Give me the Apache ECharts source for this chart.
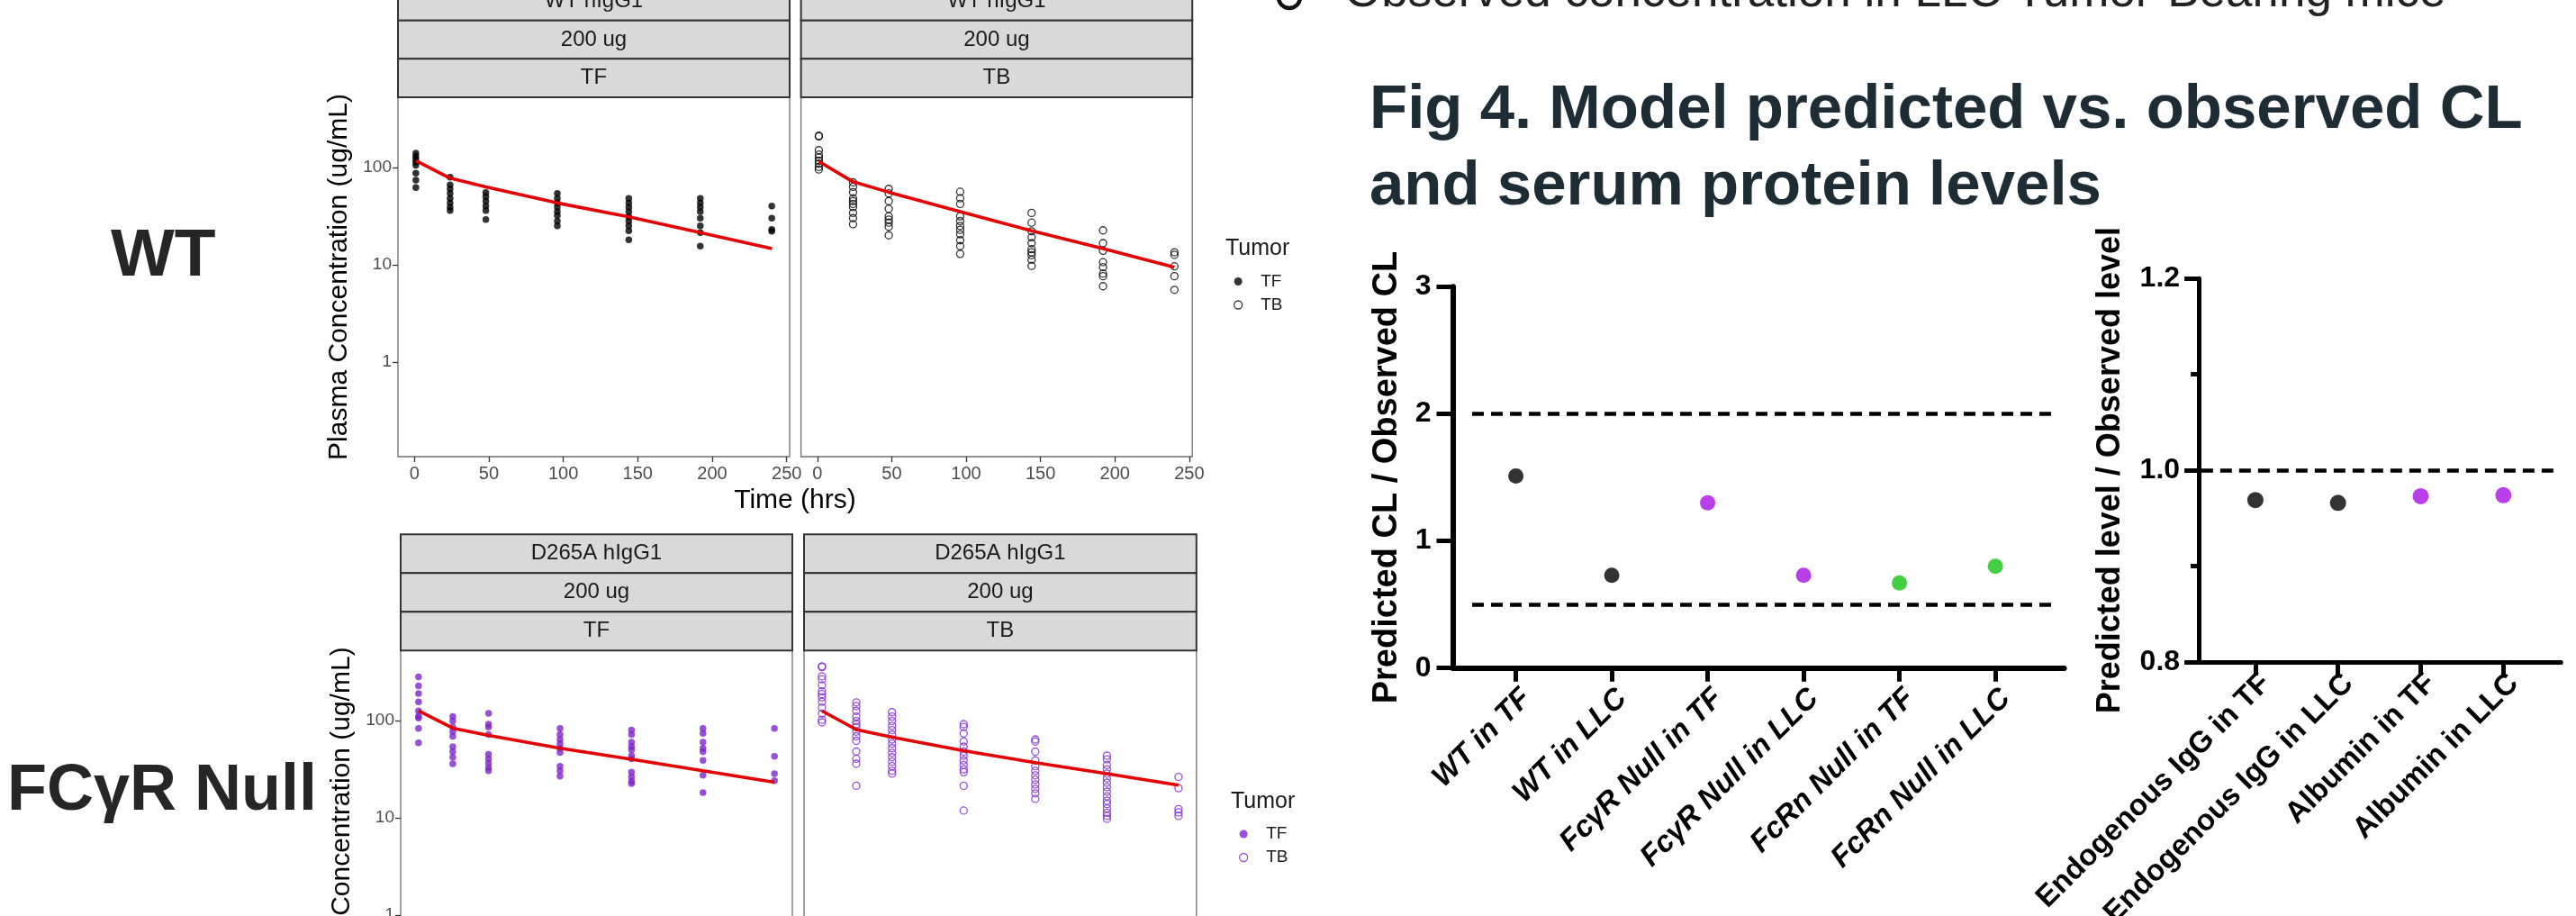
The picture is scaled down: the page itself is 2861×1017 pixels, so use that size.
<!DOCTYPE html>
<html>
<head>
<meta charset="utf-8">
<title>Fig 4 - PK panels and model predicted vs observed</title>
<script src="https://cdn.jsdelivr.net/npm/echarts@6.0.0/dist/echarts.min.js"></script>
<style>
  html, body { margin: 0; padding: 0; background: #fff; }
  #chart { width: 2861px; height: 1017px; }
</style>
</head>
<body>
<div id="chart"></div>
<script>
const FONT = '"Liberation Sans", Arial, Helvetica, sans-serif';

// sampling times (hrs) and tick values of the PK panels
const times = [1, 24, 48, 96, 144, 192, 240];
const timeTicks = [0, 50, 100, 150, 200, 250];
const concTicks = [1, 10, 100];

// observed plasma concentration (ug/mL), one list per sampling time
const wtTfObs = [
  [140, 130, 121, 113, 105, 87, 74, 62],
  [79, 66, 60, 54, 48, 43, 39, 36],
  [55, 50, 45, 40, 36, 29],
  [54, 48, 43, 39, 35, 32, 28, 25],
  [48, 43, 39, 35, 31, 28, 25, 22.3, 18],
  [48, 43, 39, 35, 30, 25, 21.3, 15.5],
  [40, 30, 23, 22]
];
const wtTbObs = [
  [211, 208, 150, 135, 126, 117, 109, 101, 95],
  [70, 63, 55.5, 48, 45, 42, 39, 34, 30, 26],
  [60, 54, 45, 37.5, 31.4, 29, 27, 24.5, 20],
  [56, 48, 42, 31.4, 28, 25, 22.8, 20.5, 17.8, 15.5, 12.9],
  [34, 27, 22, 19.1, 16.6, 14.4, 13.4, 12.5, 11.2, 9.7],
  [22.5, 16.6, 13.9, 10.6, 9.4, 8.1, 7.6, 6.0],
  [13.4, 12.6, 9.6, 7.6, 5.5]
];
const nullTfObs = [
  [282, 228, 190, 156, 126, 111, 106, 83, 59],
  [110, 99, 86, 77, 69, 54, 48, 42, 36],
  [119, 92, 86, 72, 45, 40.5, 36.4, 32.7, 30.5],
  [83, 72, 64, 58, 52, 47, 34, 30.5, 26.8],
  [80, 72, 60, 54, 50, 43.6, 40.5, 29.5, 26.4, 23.8, 22.5],
  [83, 74, 60, 52, 48, 39, 27.4, 18.2],
  [83, 42.9, 28.4, 24.1]
];
const nullTbObs = [
  [361, 355, 286, 266, 231, 200, 187, 174, 156, 136, 118, 102, 96],
  [154, 141, 126, 110, 99, 92, 86, 77, 69, 62, 48, 40.5, 36, 21.4],
  [122, 110, 99, 88.5, 80, 72, 64, 58, 52, 46.7, 42, 37.8, 34, 30.5, 28.5],
  [92, 86, 74, 61, 54, 48, 43.6, 39, 35, 31.6, 29.5, 21.4, 11.9],
  [64, 61, 48, 39, 34, 30.5, 27.4, 24.7, 22.1, 19.9, 17.9, 15.7],
  [43.6, 40, 35, 31.6, 28.5, 25.5, 23, 20.7, 18.6, 16.7, 15, 13.9, 12.5, 11.3, 10.5, 9.8],
  [26.4, 20.2, 12.3, 11.4, 10.5]
];

// model prediction at the same times
const wtTfPred = [117, 77.4, 63, 43, 31, 21.3, 14.6];
const wtTbPred = [115, 71, 55.5, 35, 22.3, 14.6, 9.4];
const nullTfPred = [126, 83.6, 70.5, 52, 40, 30.5, 23.3];
const nullTbPred = [126, 81, 67.6, 49, 37, 28.5, 21.7];

// Fig 4 left: predicted / observed CL
const clCats = ['WT in TF', 'WT in LLC', 'FcγR Null in TF', 'FcγR Null in LLC', 'FcRn Null in TF', 'FcRn Null in LLC'];
const clGroups = ['WT', 'WT', 'FcγR', 'FcγR', 'FcRn', 'FcRn'];
const clRatio = [1.51, 0.73, 1.30, 0.73, 0.67, 0.80];
const clLimits = [2, 0.5];

// Fig 4 right: predicted / observed serum protein level
const proteinCats = ['Endogenous IgG in TF', 'Endogenous IgG in LLC', 'Albumin in TF', 'Albumin in LLC'];
const proteinGroups = ['IgG', 'IgG', 'Albumin', 'Albumin'];
const proteinRatio = [0.969, 0.966, 0.973, 0.974];
const proteinRef = [1.0];

const groupColors = { WT: '#000000', 'FcγR': '#a70fe2', FcRn: '#15c215', IgG: '#000000', Albumin: '#a70fe2' };
const PURPLE = '#7d26cd';

function obsPoints(obs) {
  const pts = [];
  obs.forEach((vals, i) => vals.forEach(v => pts.push([times[i], v])));
  return pts;
}
function predPoints(pred) {
  return pred.map((v, i) => [times[i], v]);
}

const PANEL_H = 399;
const panels = [
  { left: 442, top: 108, width: 435, stripTop: -20, strip: ['WT hIgG1', '200 ug', 'TF'], obs: wtTfObs, pred: wtTfPred, name: 'TF', color: '#000', hollow: false, yLabels: true },
  { left: 889.6, top: 108, width: 434.6, stripTop: -20, strip: ['WT hIgG1', '200 ug', 'TB'], obs: wtTbObs, pred: wtTbPred, name: 'TB', color: '#000', hollow: true, yLabels: false },
  { left: 445, top: 722.3, width: 435, stripTop: 593.3, strip: ['D265A hIgG1', '200 ug', 'TF'], obs: nullTfObs, pred: nullTfPred, name: 'TF', color: PURPLE, hollow: false, yLabels: true },
  { left: 893, top: 722.3, width: 435.8, stripTop: 593.3, strip: ['D265A hIgG1', '200 ug', 'TB'], obs: nullTbObs, pred: nullTbPred, name: 'TB', color: PURPLE, hollow: true, yLabels: false }
];

const grid = [], xAxis = [], yAxis = [], series = [], graphic = [];

panels.forEach((p, i) => {
  grid.push({ left: p.left, top: p.top, width: p.width, height: PANEL_H, show: true,
    borderColor: '#6e6e6e', borderWidth: 1.3, backgroundColor: '#fff', outerBoundsMode: 'none' });
  xAxis.push({
    gridIndex: i, type: 'value', min: -11, max: 252,
    axisLine: { show: false, onZero: false },
    splitLine: { show: false },
    axisTick: { show: true, customValues: timeTicks, length: 6, lineStyle: { color: '#333', width: 1.3 } },
    axisLabel: { customValues: timeTicks, color: '#4d4d4d', fontSize: 20, fontFamily: FONT, margin: 9 }
  });
  yAxis.push({
    gridIndex: i, type: 'log', logBase: 10, min: 0.1062, max: 524.8,
    axisLine: { show: false, onZero: false },
    splitLine: { show: false },
    axisTick: { show: p.yLabels, customValues: concTicks, length: 6, lineStyle: { color: '#333', width: 1.3 } },
    axisLabel: { show: p.yLabels, customValues: concTicks, color: '#4d4d4d', fontSize: 19, fontFamily: FONT, margin: 7 },
    name: p.yLabels ? 'Plasma Concentration (ug/mL)' : '',
    nameLocation: 'middle', nameGap: 50,
    nameTextStyle: { fontSize: 30, color: '#000', fontFamily: FONT }
  });
  series.push({
    type: 'scatter', name: p.name, xAxisIndex: i, yAxisIndex: i,
    data: obsPoints(p.obs), symbol: 'circle', symbolSize: p.hollow ? 8 : 7.5,
    itemStyle: p.hollow ? { color: 'rgba(0,0,0,0)', borderColor: p.color, borderWidth: 1.3 } : { color: p.color },
    z: 2, silent: true
  });
  series.push({
    type: 'line', name: 'Model', xAxisIndex: i, yAxisIndex: i,
    data: predPoints(p.pred), symbol: 'none',
    lineStyle: { color: '#e40000', width: 3.6 }, z: 3, silent: true
  });

  // facet strips
  const h = (p.top - p.stripTop) / 3;
  p.strip.forEach((label, r) => {
    const y0 = p.stripTop + r * h;
    graphic.push({ type: 'rect', silent: true, shape: { x: p.left, y: y0, width: p.width, height: h },
      style: { fill: '#d9d9d9', stroke: '#333', lineWidth: 2 } });
    graphic.push({ type: 'text', silent: true, x: p.left + p.width / 2, y: y0 + h / 2,
      style: { text: label, fontSize: 24, fontFamily: FONT, fill: '#1a1a1a',
        align: 'center', verticalAlign: 'middle', textAlign: 'center', textVerticalAlign: 'middle' } });
  });
});

// Fig 4: CL ratio chart (grid 4)
grid.push({ left: 1613.5, top: 318.3, width: 679.1, height: 423.4, outerBoundsMode: 'none' });
xAxis.push({
  gridIndex: 4, type: 'value', min: -0.658, max: 5.718,
  axisLine: { lineStyle: { color: '#000', width: 6 }, onZero: false },
  splitLine: { show: false },
  axisTick: { customValues: clCats.map((c, i) => i), length: 15, lineStyle: { color: '#000', width: 5 } },
  axisLabel: { customValues: clCats.map((c, i) => i), formatter: v => clCats[v], rotate: 45,
    align: 'right', verticalAlign: 'top', margin: 17,
    fontSize: 33, fontWeight: 'bold', fontStyle: 'italic', color: '#000', fontFamily: FONT }
});
yAxis.push({
  gridIndex: 4, type: 'value', min: 0, max: 3, interval: 1,
  axisLine: { show: true, lineStyle: { color: '#000', width: 6 }, onZero: false },
  splitLine: { show: false },
  axisTick: { length: 18, lineStyle: { color: '#000', width: 5 } },
  axisLabel: { fontSize: 32, fontWeight: 'bold', color: '#000', fontFamily: FONT, margin: 24 },
  name: 'Predicted CL / Observed CL', nameLocation: 'middle', nameGap: 54,
  nameTextStyle: { fontSize: 38, fontWeight: 'bold', color: '#000', fontFamily: FONT }
});
series.push({
  type: 'scatter', name: 'CL ratio', xAxisIndex: 4, yAxisIndex: 4,
  data: clRatio.map((v, i) => [i, v]), symbolSize: 17, silent: true, z: 4,
  itemStyle: { color: p => groupColors[clGroups[p.dataIndex]] },
  markLine: {
    silent: true, symbol: ['none', 'none'], label: { show: false },
    lineStyle: { color: '#000', width: 4.5, type: [13, 8] },
    data: clLimits.map(v => [{ coord: [-0.456, v] }, { coord: [5.638, v] }])
  }
});

// Fig 4: serum protein chart (grid 5)
grid.push({ left: 2442.1, top: 309.3, width: 402.2, height: 425.7, outerBoundsMode: 'none' });
xAxis.push({
  gridIndex: 5, type: 'value', min: -0.684, max: 3.697,
  axisLine: { lineStyle: { color: '#000', width: 5 }, onZero: false },
  splitLine: { show: false },
  axisTick: { customValues: proteinCats.map((c, i) => i), length: 15, lineStyle: { color: '#000', width: 5 } },
  axisLabel: { customValues: proteinCats.map((c, i) => i), formatter: v => proteinCats[v], rotate: 45,
    align: 'right', verticalAlign: 'top', margin: 7,
    fontSize: 33, fontWeight: 'bold', color: '#000', fontFamily: FONT }
});
yAxis.push({
  gridIndex: 5, type: 'value', min: 0.8, max: 1.2, interval: 0.2,
  axisLine: { show: true, lineStyle: { color: '#000', width: 5 }, onZero: false },
  splitLine: { show: false },
  axisTick: { length: 16, lineStyle: { color: '#000', width: 5 } },
  minorTick: { show: true, splitNumber: 2, length: 9, lineStyle: { color: '#000', width: 5 } },
  axisLabel: { formatter: v => v.toFixed(1), fontSize: 32, fontWeight: 'bold', color: '#000', fontFamily: FONT, margin: 21 },
  name: 'Predicted level / Observed level', nameLocation: 'middle', nameGap: 80,
  nameTextStyle: { fontSize: 36, fontWeight: 'bold', color: '#000', fontFamily: FONT }
});
series.push({
  type: 'scatter', name: 'Protein ratio', xAxisIndex: 5, yAxisIndex: 5,
  data: proteinRatio.map((v, i) => [i, v]), symbolSize: 18, silent: true, z: 4,
  itemStyle: { color: p => groupColors[proteinGroups[p.dataIndex]] },
  markLine: {
    silent: true, symbol: ['none', 'none'], label: { show: false },
    lineStyle: { color: '#000', width: 4.5, type: [13, 8] },
    data: proteinRef.map(v => [{ coord: [-0.654, v] }, { coord: [3.612, v] }])
  }
});

function txt(text, x, y, size, opts) {
  return Object.assign({ type: 'text', silent: true, x: x, y: y,
    style: Object.assign({ text: text, fontSize: size, fontFamily: FONT, fill: '#000',
      align: 'left', verticalAlign: 'middle', textAlign: 'left', textVerticalAlign: 'middle' }, opts || {}) });
}

graphic.push(
  txt('WT', 123, 285, 75, { fontWeight: 'bold', fill: '#262626' }),
  txt('FCγR Null', 8, 879, 72, { fontWeight: 'bold', fill: '#262626' }),
  txt('Time (hrs)', 883, 556, 30, { align: 'center', textAlign: 'center' }),
  txt('Tumor', 1361, 276, 25, { fill: '#1a1a1a' }),
  txt('Tumor', 1367, 890, 25, { fill: '#1a1a1a' }),
  { type: 'circle', silent: true, shape: { cx: 1432, cy: -3, r: 12 }, style: { fill: '#fff', stroke: '#111', lineWidth: 4.5 } },
  txt('Observed concentration in LLC Tumor-Bearing mice', 1493, -8, 53, { fill: '#222' }),
  txt('Fig 4. Model predicted vs. observed CL', 1521, 123, 69, { fontWeight: 'bold', fill: '#1e2d35' }),
  txt('and serum protein levels', 1521, 208, 69, { fontWeight: 'bold', fill: '#1e2d35' })
);

const legendText = { fontSize: 19, color: '#1a1a1a', fontFamily: FONT, lineHeight: 20 };
function tumorLegend(left, top, color) {
  return {
    orient: 'vertical', left: left, top: top, padding: 0,
    itemWidth: 40, itemHeight: 9, itemGap: 6, selectedMode: false,
    textStyle: legendText,
    data: [
      { name: 'TF', icon: 'circle', itemStyle: { color: color, borderWidth: 0 } },
      { name: 'TB', icon: 'circle', itemStyle: { color: '#fff', borderColor: color, borderWidth: 1.3 } }
    ]
  };
}

const chart = echarts.init(document.getElementById('chart'), null, { renderer: 'canvas' });
chart.setOption({
  animation: false,
  backgroundColor: '#fff',
  textStyle: { fontFamily: FONT },
  grid: grid,
  xAxis: xAxis,
  yAxis: yAxis,
  legend: [tumorLegend(1370, 302.5, '#000'), tumorLegend(1376, 916, PURPLE)],
  graphic: graphic,
  series: series
});
</script>
</body>
</html>
